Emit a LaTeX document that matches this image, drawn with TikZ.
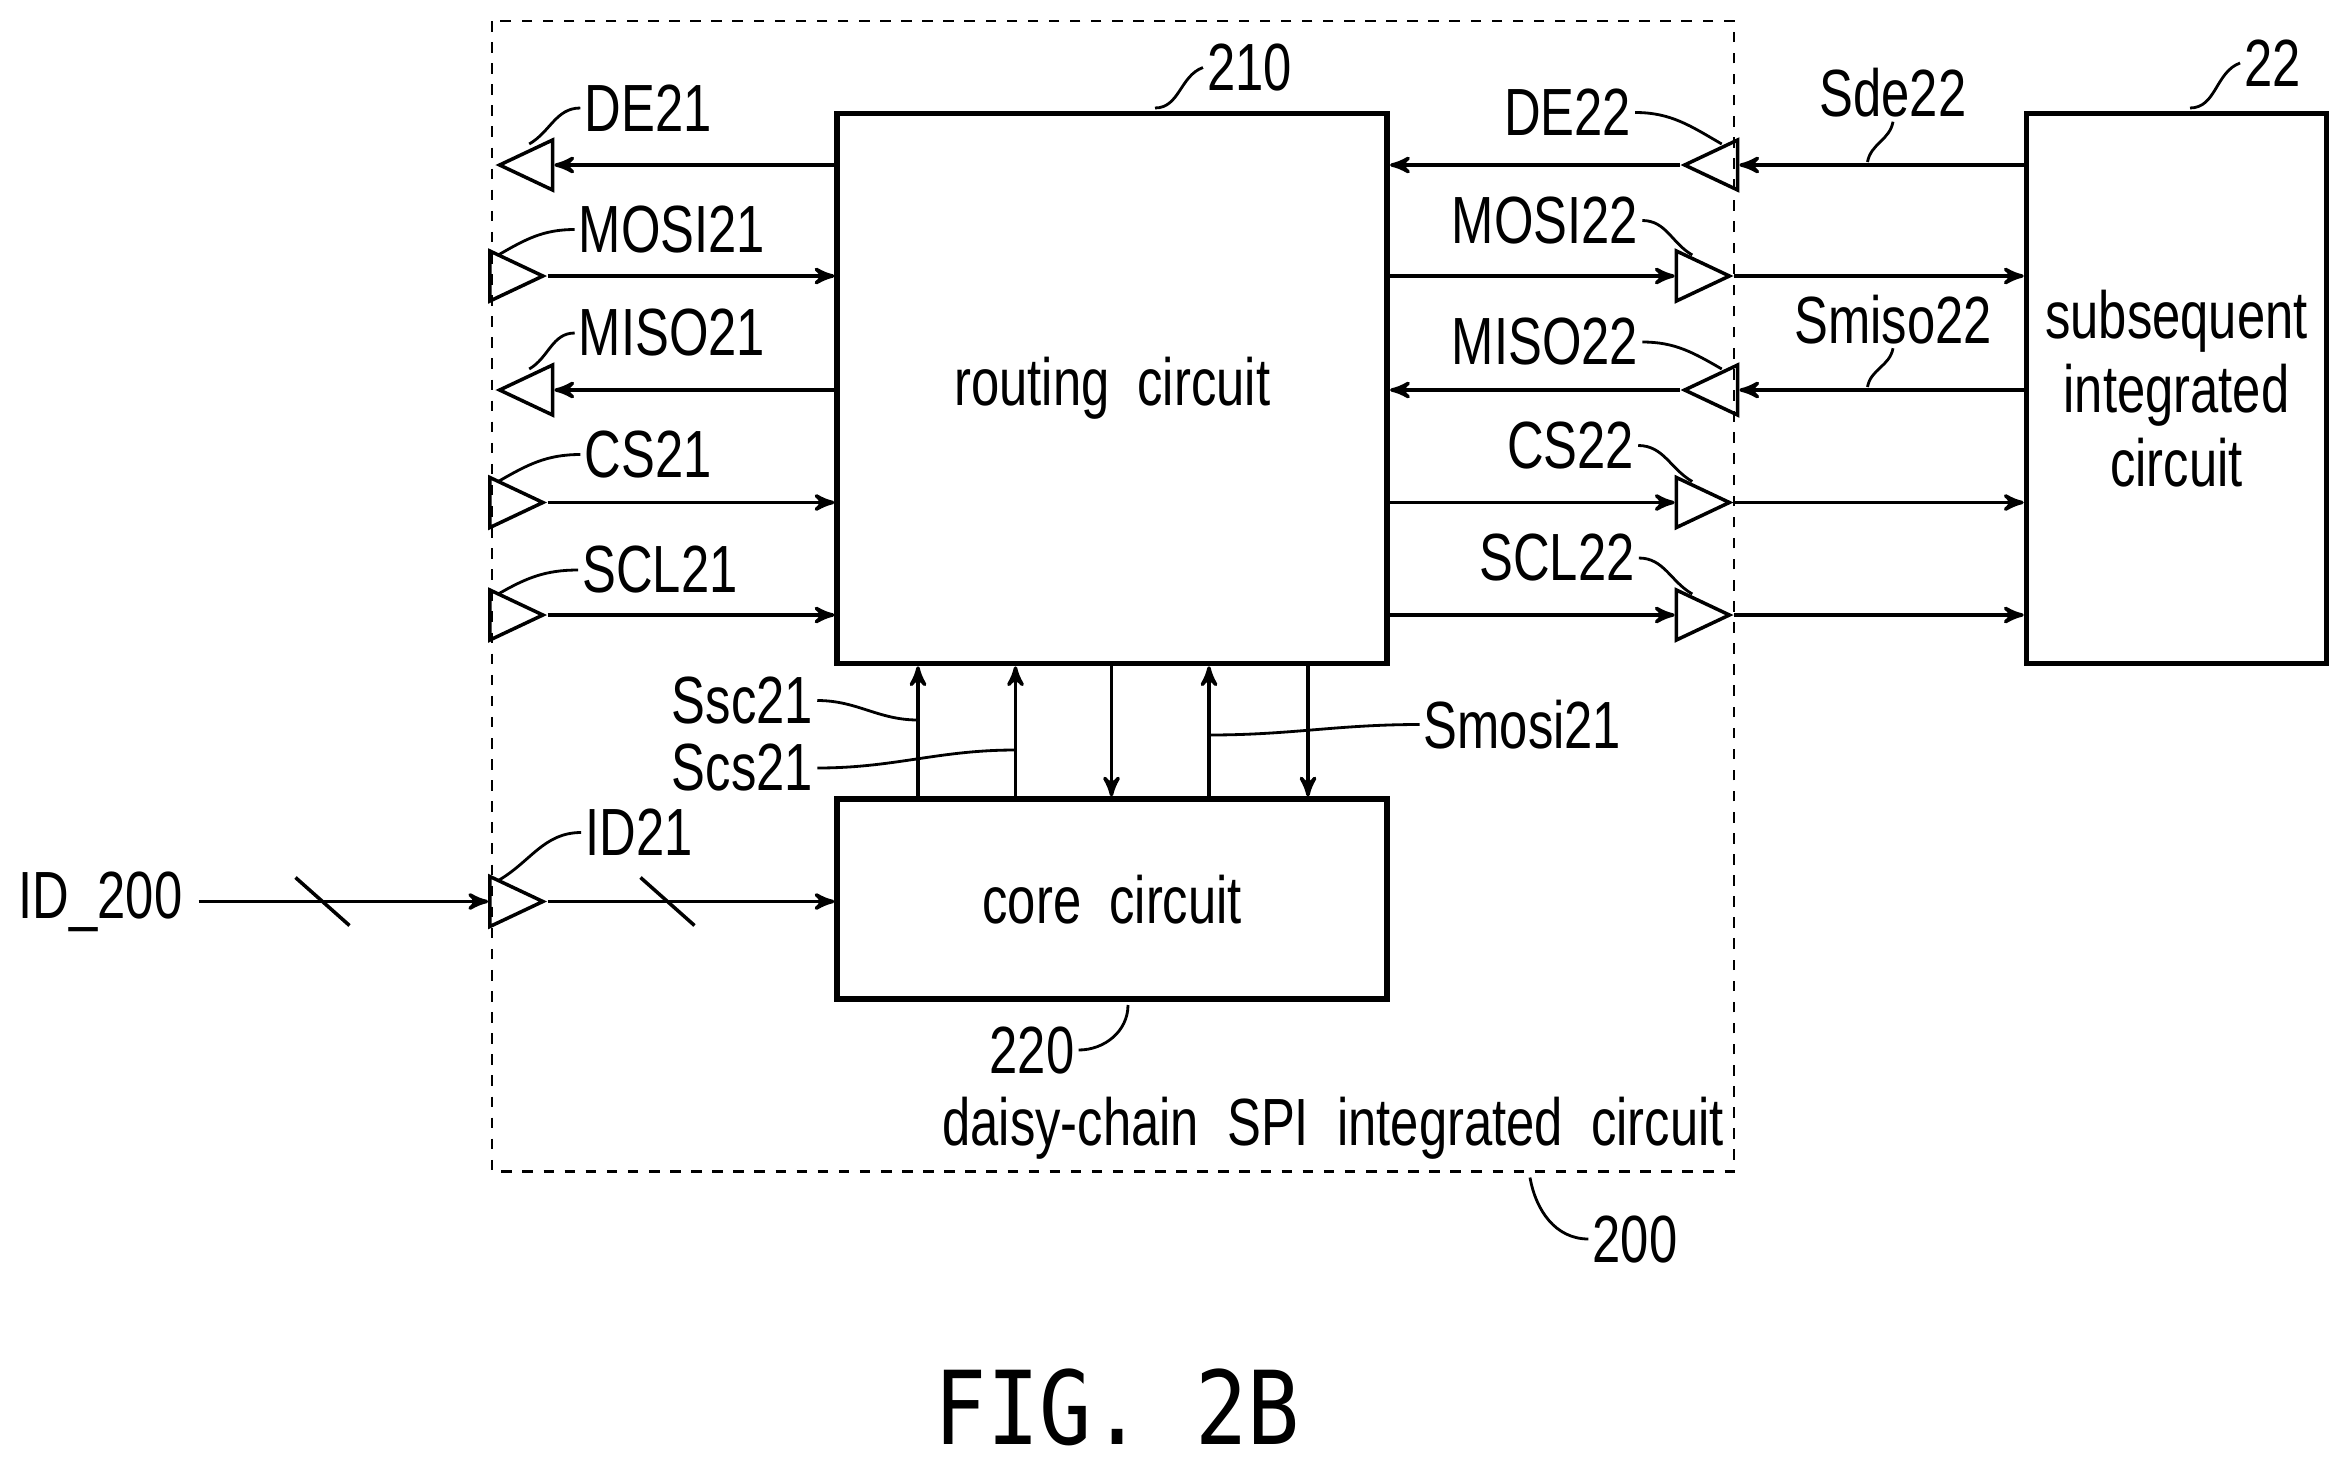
\documentclass[tikz,border=0pt]{standalone}
\usepackage{fontspec}
\setmainfont{Liberation Sans}[FakeStretch=0.76]
\newfontfamily\figfont{DejaVu Sans Mono}[FakeStretch=0.85]
\usetikzlibrary{shapes.geometric, arrows, positioning, calc}

\tikzset{
  blk/.style = {draw, line width=1.6pt},
  lab/.style = {font=\fontsize{19}{21}\selectfont, inner sep=1pt},
  bufR/.style = {draw, isosceles triangle, isosceles triangle stretches,
    minimum width=0.5cm, minimum height=0.53cm, inner sep=0pt, line width=1pt},
  bufL/.style = {bufR, shape border rotate=180},
  sig/.style = {->, >=stealth', line width=1pt},
  lead/.style = {line width=0.8pt}
}

\begin{document}
\begin{tikzpicture}[x=0.015cm, y=-0.015cm]
  \useasboundingbox (0,0) rectangle (1560,975);

  % chip outline
  \draw[dashed, line width=0.8pt] (328,14) rectangle (1156,781);
  \node[lab, anchor=east] (chipname) at (1152,752) {daisy-chain~ SPI~ integrated~ circuit};
  \node[lab] (n200) at (1090,826) {200};
  \draw[lead] (1020,785) to[out=-80,in=180] (n200.west);

  % blocks
  \node[blk, minimum width=5.5cm, minimum height=5.5cm] (route) at (741.5,259) {};
  \node[lab] at (route) {routing~ circuit};
  \node[blk, minimum width=5.5cm, minimum height=2.0cm] (core) at (741.5,599.5) {};
  \node[lab] at (core) {core~ circuit};
  \node[blk, minimum width=3.0cm, minimum height=5.5cm, align=center, lab] (sub) at (1451,259)
    {subsequent\\integrated\\circuit};

  \node[lab] (n210) at (833,45) {210};
  \draw[lead] (770,72) to[out=0,in=200] (n210.west);
  \node[lab] (n220) at (688,700) {220};
  \draw[lead] (n220.east) to[out=0,in=-90] (752,670);
  \node[lab] (n22) at (1515,42) {22};
  \draw[lead] (1460,72) to[out=0,in=200] (n22.west);

  % left side buffers
  \node[bufL, anchor=apex] (de21) at (330,110) {};
  \node[bufR, anchor=apex] (mosi21) at (365,184) {};
  \node[bufL, anchor=apex] (miso21) at (330,260) {};
  \node[bufR, anchor=apex] (cs21) at (365,335) {};
  \node[bufR, anchor=apex] (scl21) at (365,410) {};
  \draw[sig] (route.west |- de21) -- (de21.lower side);
  \draw[sig] (mosi21.apex) -- (route.west |- mosi21.apex);
  \draw[sig] (route.west |- miso21) -- (miso21.lower side);
  \draw[sig] (cs21.apex) -- (route.west |- cs21.apex);
  \draw[sig] (scl21.apex) -- (route.west |- scl21.apex);

  \node[lab] (lde21) at (432,72) {DE21};
  \node[lab] (lmosi21) at (448,153) {MOSI21};
  \node[lab] (lmiso21) at (448,222) {MISO21};
  \node[lab] (lcs21) at (432,303) {CS21};
  \node[lab] (lscl21) at (440,380) {SCL21};
  \foreach \n in {de21, mosi21, miso21, cs21, scl21}
    \draw[lead] (l\n.west) to[out=180,in=30] ($(\n.center)+(-5,-14)$);

  % right side buffers
  \node[bufL, anchor=apex] (de22) at (1120,110) {};
  \node[bufR, anchor=apex] (mosi22) at (1156,184) {};
  \node[bufL, anchor=apex] (miso22) at (1120,260) {};
  \node[bufR, anchor=apex] (cs22) at (1156,335) {};
  \node[bufR, anchor=apex] (scl22) at (1156,410) {};
  \draw[sig] (de22.apex) -- (route.east |- de22.apex);
  \draw[sig] (sub.west |- de22) -- (de22.lower side);
  \draw[sig] (route.east |- mosi22) -- (mosi22.lower side);
  \draw[sig] (mosi22.apex) -- (sub.west |- mosi22.apex);
  \draw[sig] (miso22.apex) -- (route.east |- miso22.apex);
  \draw[sig] (sub.west |- miso22) -- (miso22.lower side);
  \draw[sig] (route.east |- cs22) -- (cs22.lower side);
  \draw[sig] (cs22.apex) -- (sub.west |- cs22.apex);
  \draw[sig] (route.east |- scl22) -- (scl22.lower side);
  \draw[sig] (scl22.apex) -- (sub.west |- scl22.apex);

  \node[lab] (lde22) at (1045,75) {DE22};
  \node[lab] (lmosi22) at (1030,147) {MOSI22};
  \node[lab] (lmiso22) at (1030,228) {MISO22};
  \node[lab] (lcs22) at (1047,297) {CS22};
  \node[lab] (lscl22) at (1038,372) {SCL22};
  \foreach \n in {de22, mosi22, miso22, cs22, scl22}
    \draw[lead] (l\n.east) to[out=0,in=150] ($(\n.center)+(0,-14)$);

  \node[lab] (sde22) at (1262,62) {Sde22};
  \draw[lead] (sde22.south) to[out=-100,in=80] (1245,108);
  \node[lab] (smiso22) at (1262,213) {Smiso22};
  \draw[lead] (smiso22.south) to[out=-100,in=80] (1245,258);

  % routing <-> core
  \coordinate (v1) at (612,0);
  \coordinate (v2) at (677,0);
  \coordinate (v3) at (741,0);
  \coordinate (v4) at (806,0);
  \coordinate (v5) at (872,0);
  \draw[sig] (v1 |- core.north) -- (v1 |- route.south);
  \draw[sig] (v2 |- core.north) -- (v2 |- route.south);
  \draw[sig] (v3 |- route.south) -- (v3 |- core.north);
  \draw[sig] (v4 |- core.north) -- (v4 |- route.south);
  \draw[sig] (v5 |- route.south) -- (v5 |- core.north);

  \node[lab] (ssc21) at (495,467) {Ssc21};
  \draw[lead] (ssc21.east) to[out=0,in=180] (612,480);
  \node[lab] (scs21) at (495,512) {Scs21};
  \draw[lead] (scs21.east) to[out=0,in=180] (677,500);
  \node[lab] (smosi21) at (1015,483) {Smosi21};
  \draw[lead] (smosi21.west) to[out=180,in=0] (806,490);

  % ID input
  \node[lab] (id200) at (67,601) {ID\_200};
  \node[bufR, anchor=apex] (id21) at (365,601) {};
  \coordinate (idstart) at ($(id200.east)+(8,0)$);
  \draw[sig] (idstart) -- (id21.lower side);
  \draw[sig] (id21.apex) -- (core.west |- id21.apex);
  \draw[line width=1pt] (197,585) -- (233,617);
  \draw[line width=1pt] (427,585) -- (463,617);
  \node[lab] (lid21) at (426,555) {ID21};
  \draw[lead] (lid21.west) to[out=180,in=30] ($(id21.center)+(-5,-14)$);

  \node[font=\figfont\fontsize{29}{32}\selectfont] (fig) at (745,938) {FIG. 2B};
\end{tikzpicture}
\end{document}
